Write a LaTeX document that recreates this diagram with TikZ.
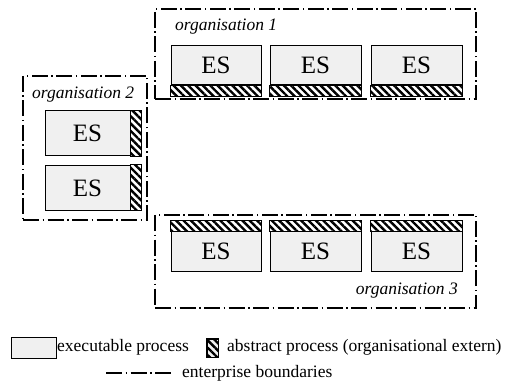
\documentclass[tikz,border=0pt]{standalone}
\usepackage{fontspec}
\setmainfont{Liberation Serif}
\usetikzlibrary{patterns.meta}

\begin{document}
\begin{tikzpicture}[
    x=1pt, y=-1pt,
    esbox/.style={draw, line width=1pt, fill=gray!12, inner sep=0pt, font=\fontsize{25}{28}\selectfont},
    hatch/.style={draw, line width=1pt, fill=gray!12, pattern={Lines[angle=-45,distance=5.2pt,line width=2.4pt]}},
    orgbox/.style={draw, line width=1.1pt, dash pattern=on 16pt off 3.5pt on 1.5pt off 3.5pt},
    orglabel/.style={inner sep=0pt, font=\fontsize{17.5}{20}\selectfont\itshape},
    legtext/.style={inner sep=0pt, anchor=west, font=\fontsize{17.5}{20}\selectfont}
]
\useasboundingbox (0,0) rectangle (506,390);

% organisation 1
\node[orgbox, minimum width=321pt, minimum height=90pt] (org1) at (315.5,54) {};
\node[orglabel, anchor=west] (lab1) at (175,27) {organisation 1};
\node[esbox, minimum width=90pt, minimum height=39pt] (es11) at (216,65.5) {ES};
\node[esbox, minimum width=91pt, minimum height=39pt] (es12) at (315.5,65.5) {ES};
\node[esbox, minimum width=91pt, minimum height=39pt] (es13) at (416.5,65.5) {ES};
\fill[hatch] (es11.south west) rectangle ([yshift=-11pt]es11.south east);
\fill[hatch] (es12.south west) rectangle ([yshift=-11pt]es12.south east);
\fill[hatch] (es13.south west) rectangle ([yshift=-11pt]es13.south east);
\draw[line width=1pt] (es11.south west) rectangle ([yshift=-11pt]es11.south east);
\draw[line width=1pt] (es12.south west) rectangle ([yshift=-11pt]es12.south east);
\draw[line width=1pt] (es13.south west) rectangle ([yshift=-11pt]es13.south east);

% organisation 2
\node[orgbox, minimum width=124pt, minimum height=144pt] (org2) at (85,148) {};
\node[orglabel, anchor=west] (lab2) at (32,95) {organisation 2};
\node[esbox, minimum width=85pt, minimum height=45pt] (es21) at (87.5,133.5) {ES};
\node[esbox, minimum width=85pt, minimum height=45pt] (es22) at (87.5,188) {ES};
\fill[hatch] (es21.north east) rectangle ([xshift=11pt]es21.south east);
\fill[hatch] (es22.north east) rectangle ([xshift=11pt]es22.south east);
\draw[line width=1pt] (es21.north east) rectangle ([xshift=11pt]es21.south east);
\draw[line width=1pt] (es22.north east) rectangle ([xshift=11pt]es22.south east);

% organisation 3
\node[orgbox, minimum width=321pt, minimum height=93pt] (org3) at (315.5,261.5) {};
\node[orglabel, anchor=east] (lab3) at (458,291) {organisation 3};
\node[esbox, minimum width=90pt, minimum height=39pt] (es31) at (216,251.5) {ES};
\node[esbox, minimum width=91pt, minimum height=39pt] (es32) at (315.5,251.5) {ES};
\node[esbox, minimum width=91pt, minimum height=39pt] (es33) at (416.5,251.5) {ES};
\fill[hatch] ([yshift=11pt]es31.north west) rectangle (es31.north east);
\fill[hatch] ([yshift=11pt]es32.north west) rectangle (es32.north east);
\fill[hatch] ([yshift=11pt]es33.north west) rectangle (es33.north east);
\draw[line width=1pt] ([yshift=11pt]es31.north west) rectangle (es31.north east);
\draw[line width=1pt] ([yshift=11pt]es32.north west) rectangle (es32.north east);
\draw[line width=1pt] ([yshift=11pt]es33.north west) rectangle (es33.north east);

% Legend
\node[esbox, minimum width=45pt, minimum height=21pt] (leggray) at (33.5,347.5) {};
\node[legtext] (legexec) at (57,347) {executable process};
\node[draw, line width=1pt, fill=gray!12, minimum width=11pt, minimum height=18pt, inner sep=0pt] (leghatch) at (212.5,348) {};
\fill[hatch] (leghatch.north west) rectangle (leghatch.south east);
\draw[line width=1pt] (leghatch.north west) rectangle (leghatch.south east);
\node[legtext] (legabs) at (227,347) {abstract process (organisational extern)};
\coordinate (lineA) at (106,373);
\coordinate (lineB) at (173,373);
\draw[orgbox] (lineA) -- (lineB);
\node[legtext] (legbound) at (182,373) {enterprise boundaries};
\end{tikzpicture}
\end{document}
